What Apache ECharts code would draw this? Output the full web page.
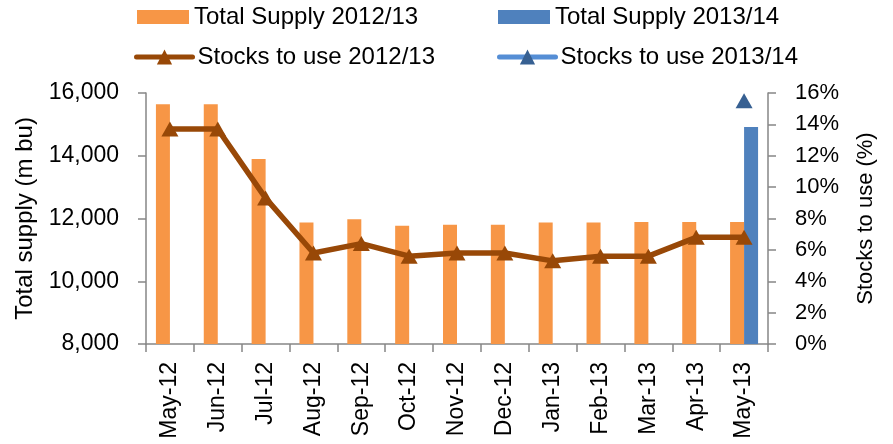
<!DOCTYPE html>
<html>
<head>
<meta charset="utf-8">
<script src="https://cdn.jsdelivr.net/npm/echarts@6/dist/echarts.min.js"></script>
<style>
  body { margin: 0; background: #fff; }
  #main { width: 893px; height: 444px; }
</style>
</head>
<body>
<div id="main"></div>
<script>
// months on x axis
const months = ['May-12', 'Jun-12', 'Jul-12', 'Aug-12', 'Sep-12', 'Oct-12', 'Nov-12',
  'Dec-12', 'Jan-13', 'Feb-13', 'Mar-13', 'Apr-13', 'May-13']
// total supply, m bu
const supply1213 = [15640, 15640, 13900, 11870, 11980, 11770, 11800, 11800, 11870, 11870, 11890, 11890, 11890]
const supply1314 = [null, null, null, null, null, null, null, null, null, null, null, null, 14920]
// stocks to use, %
const stocks1213 = [13.7, 13.7, 9.3, 5.8, 6.4, 5.6, 5.8, 5.8, 5.3, 5.6, 5.6, 6.8, 6.8]
const stocks1314 = [null, null, null, null, null, null, null, null, null, null, null, null, 15.5]

const axisGrey = '#868686'
const txtFont = "'Liberation Sans', Arial, sans-serif"

// one legend box per item so they sit where the original has them
const legendItem = (name, left, top, w, h) => ({
  data: [name],
  left: left,
  top: top,
  padding: 0,
  itemWidth: w,
  itemHeight: h,
  lineStyle: { width: 5, cap: 'round' },
  textStyle: { fontSize: 24, color: '#000', fontFamily: txtFont }
})

const option = {
  animation: false,
  textStyle: { fontFamily: txtFont },
  legend: [
    Object.assign(legendItem('Total Supply 2012/13', 137, 5, 52, 14), { icon: 'rect' }),
    Object.assign(legendItem('Total Supply 2013/14', 498, 5, 52, 14), { icon: 'rect' }),
    legendItem('Stocks to use 2012/13', 134, 45, 56, 19),
    legendItem('Stocks to use 2013/14', 497, 45, 56, 19)
  ],
  grid: { left: 146, right: 125, top: 93, bottom: 100 },
  xAxis: {
    type: 'category',
    data: months,
    axisLine: { lineStyle: { color: axisGrey, width: 1.5 } },
    axisTick: { show: true, length: 8, lineStyle: { color: axisGrey, width: 1.5 } },
    axisLabel: { rotate: 90, interval: 0, margin: 18, color: '#000', fontSize: 23 }
  },
  yAxis: [
    {
      type: 'value',
      min: 8000, max: 16000, interval: 2000,
      name: 'Total supply (m bu)',
      nameLocation: 'middle',
      nameGap: 102,
      nameTextStyle: { fontSize: 24, color: '#000' },
      axisLine: { show: true, lineStyle: { color: axisGrey, width: 1.5 } },
      axisTick: { show: true, length: 8, lineStyle: { color: axisGrey, width: 1.5 } },
      splitLine: { show: false },
      axisLabel: {
        margin: 27, color: '#000', fontSize: 23,
        formatter: v => v.toLocaleString('en-US')
      }
    },
    {
      type: 'value',
      min: 0, max: 16, interval: 2,
      name: 'Stocks to use (%)',
      nameLocation: 'middle',
      nameGap: 87,
      nameTextStyle: { fontSize: 22, color: '#000' },
      axisLine: { show: true, lineStyle: { color: axisGrey, width: 1.5 } },
      axisTick: { show: true, length: 8, lineStyle: { color: axisGrey, width: 1.5 } },
      splitLine: { show: false },
      axisLabel: { margin: 27, color: '#000', fontSize: 22, formatter: '{value}%' }
    }
  ],
  series: [
    {
      name: 'Total Supply 2012/13',
      type: 'bar',
      data: supply1213,
      barWidth: 14,
      barGap: '0%',
      itemStyle: { color: '#F79646' }
    },
    {
      name: 'Total Supply 2013/14',
      type: 'bar',
      data: supply1314,
      barWidth: 14,
      itemStyle: { color: '#4F81BD' }
    },
    {
      name: 'Stocks to use 2012/13',
      type: 'line',
      yAxisIndex: 1,
      data: stocks1213,
      symbol: 'triangle',
      symbolSize: [17, 15],
      lineStyle: { color: '#984807', width: 5.5 },
      itemStyle: { color: '#984807' },
      z: 5
    },
    {
      name: 'Stocks to use 2013/14',
      type: 'line',
      yAxisIndex: 1,
      data: stocks1314,
      symbol: 'triangle',
      symbolSize: [17, 15],
      lineStyle: { color: '#558ED5', width: 5.5 },
      itemStyle: { color: '#376092' },
      z: 5
    }
  ]
}

const chart = echarts.init(document.getElementById('main'))
chart.setOption(option)
</script>
</body>
</html>
